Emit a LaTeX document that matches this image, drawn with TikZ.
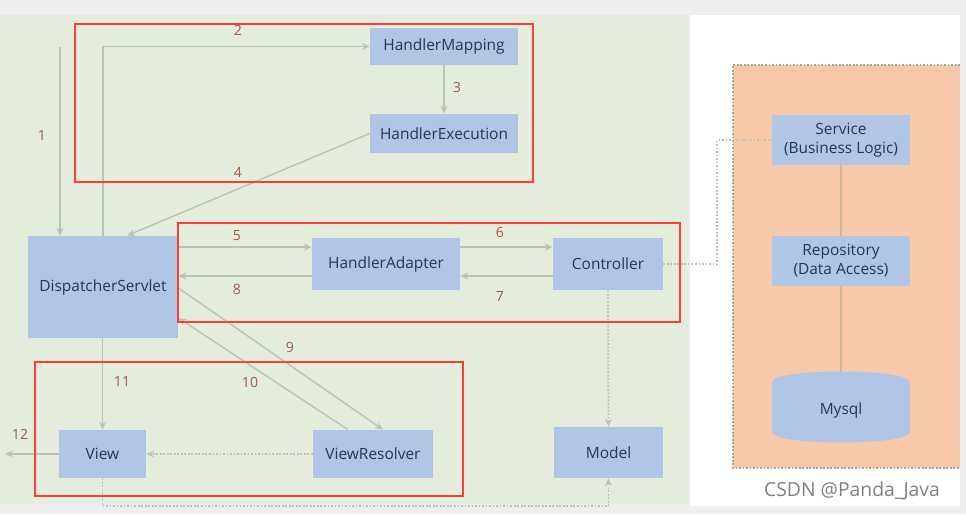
\documentclass[tikz,border=0pt]{standalone}
\usepackage{fontspec}
\setmainfont{Open Sans}
\usetikzlibrary{arrows.meta,calc}
\definecolor{pageGray}{HTML}{EEEEEE}
\definecolor{bgGreen}{HTML}{E4EDDC}
\definecolor{bgOrange}{HTML}{F7C9A9}
\definecolor{boxBlue}{HTML}{B1C5E6}
\definecolor{boxText}{HTML}{2B3550}
\definecolor{lineGreen}{HTML}{B7C7AB}
\definecolor{dotGray}{HTML}{BCC3B6}
\definecolor{tierLine}{HTML}{CDB5A0}
\definecolor{numRed}{HTML}{A5574A}
\definecolor{hiRed}{HTML}{FF3B3B}
\tikzset{
  sz/.style 2 args={minimum width=#1*0.02cm,minimum height=#2*0.02cm},
  mvcBox/.style={fill=boxBlue,text=boxText,font=\fontsize{8.8}{10.8}\selectfont,
        align=center,inner sep=1pt},
  flow/.style={draw=lineGreen,line width=.8pt,-{Stealth[length=4.5pt,width=4pt]}},
  dotFlow/.style={draw=dotGray,line width=1pt,densely dotted,-{Stealth[length=4.5pt,width=4pt]}},
  dotLine/.style={draw=dotGray,line width=1pt,densely dotted},
  stepNum/.style={text=numRed,font=\fontsize{8}{9}\selectfont,inner sep=1pt},
  hiBox/.style={draw=hiRed,line width=1.2pt},
}

\begin{document}
\begin{tikzpicture}[x=0.02cm,y=-0.02cm]
% panels
\fill[pageGray] (0,0) rectangle (966,514);
\fill[bgGreen] (0,15) rectangle (688,504);
\fill[white] (690,15) rectangle (960,506);
\fill[bgOrange] (733,65) rectangle (960,468);
\draw[gray!70,line width=1pt,densely dotted] (960,65) -- (733,65) -- (733,468) -- (960,468);

% nodes
\node[mvcBox,sz={148}{37}] (hm)    at (444,46.5)  {HandlerMapping};
\node[mvcBox,sz={148}{39}] (he)    at (444,133.5) {HandlerExecution};
\node[mvcBox,sz={150}{102}] (ds)   at (103,287)   {DispatcherServlet};
\node[mvcBox,sz={148}{52}] (ha)    at (386,264)   {HandlerAdapter};
\node[mvcBox,sz={110}{52}] (ctrl)  at (608,264)   {Controller};
\node[mvcBox,sz={87}{48}]  (view)  at (102.5,454) {View};
\node[mvcBox,sz={120}{48}] (vr)    at (373,454)   {ViewResolver};
\node[mvcBox,sz={109}{51}] (model) at (608.5,452.5) {Model};
\node[mvcBox,sz={138}{50}] (svc)   at (841,140)   {Service\\(Business Logic)};
\node[mvcBox,sz={138}{50}] (repo)  at (841,261)   {Repository\\(Data Access)};
\fill[boxBlue] (772,382) .. controls (772,368) and (910,368) .. (910,382) -- (910,432)
   .. controls (910,446) and (772,446) .. (772,432) -- cycle;
\node[mvcBox,fill=none,sz={138}{50}] (mysql) at (841,410) {Mysql};

% flows
\coordinate (in1) at (60,47);
\draw[flow] (in1) -- (in1 |- ds.north);
\draw[flow] (ds.north) |- (hm.west);
\draw[flow] (hm) -- (he);
\draw[flow] (he.west) -- ($(ds.north)+(24,0)$);
\draw[flow] (ds.east |- 0,247) -- (ha.west |- 0,247);
\draw[flow] (ha.east |- 0,247) -- (ctrl.west |- 0,247);
\draw[flow] (ctrl.west |- 0,276) -- (ha.east |- 0,276);
\draw[flow] (ha.west |- 0,276) -- (ds.east |- 0,276);
\draw[flow] (ds.east |- 0,288) -- ($(vr.north)+(10,0)$);
\draw[flow] ($(vr.north)+(-25,0)$) -- (ds.east |- 0,318);
\draw[flow] (ds.south -| view.north) -- (view.north);
\coordinate (out12) at (5,454);
\draw[flow] (view.west) -- (out12);
\draw[dotFlow] (vr.west) -- (view.east);
\draw[dotFlow] (ctrl.south) -- (model.north);
\draw[dotFlow] (view.south) -- ++(0,28) -| (model.south);
\draw[dotLine] (ctrl.east) -- ++(54,0) |- (svc.west);
\draw[tierLine,line width=.8pt] (svc) -- (repo);
\draw[tierLine,line width=.8pt] (repo) -- (841,372);

% step numbers
\node[stepNum] (n1)  at (42,135)  {1};
\node[stepNum] (n2)  at (238,30)  {2};
\node[stepNum] (n3)  at (457,87)  {3};
\node[stepNum] (n4)  at (238,172) {4};
\node[stepNum] (n5)  at (237,236) {5};
\node[stepNum] (n6)  at (500,232) {6};
\node[stepNum] (n7)  at (500,296) {7};
\node[stepNum] (n8)  at (237,289) {8};
\node[stepNum] (n9)  at (290,347) {9};
\node[stepNum] (n10) at (250,382) {10};
\node[stepNum] (n11) at (122,381) {11};
\node[stepNum] (n12) at (20,434)  {12};

% highlight frames
\draw[hiBox] (75,24) rectangle (533,182);
\draw[hiBox] (178,223) rectangle (680,322);
\draw[hiBox] (35,362) rectangle (463,496);

\node[fill=white,text=gray,font=\fontsize{11}{13}\selectfont,inner sep=2pt] (mark) at (852,491) {CSDN @Panda\_Java};
\end{tikzpicture}
\end{document}
